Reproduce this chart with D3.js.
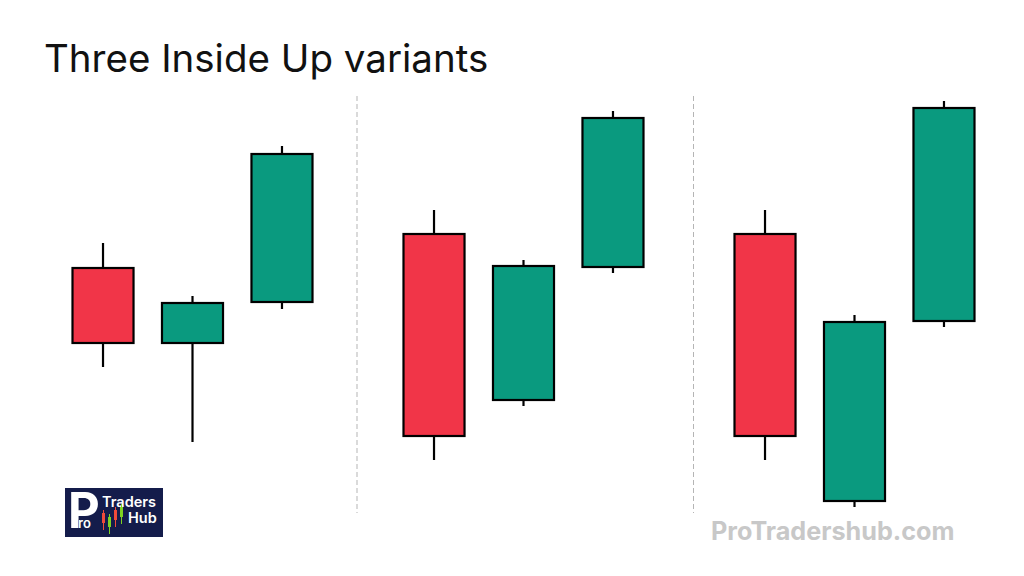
<!DOCTYPE html>
<html>
<head>
<meta charset="utf-8">
<script src="https://cdnjs.cloudflare.com/ajax/libs/d3/7.8.5/d3.min.js"></script>
<style>
  html, body { margin: 0; padding: 0; background: #fff; }
  svg { display: block; }
</style>
</head>
<body>
<svg width="1024" height="576"></svg>
<script>
// data: three variants, three candles each (price units)
var panels = ['A', 'B', 'C']
var slots = [0, 1, 2]
var opens  = [[24.2, 16.7, 20.8], [27.6, 11.0, 24.3], [27.6, 0.9, 18.9]]
var closes = [[16.7, 20.7, 35.6], [7.4, 24.4, 39.2], [7.4, 18.8, 40.2]]
var highs  = [[26.7, 21.4, 36.4], [30.0, 25.0, 39.9], [30.0, 19.5, 40.9]]
var lows   = [[14.3, 6.8, 20.1], [5.0, 10.4, 23.7], [5.0, 0.3, 18.3]]

var title = 'Three Inside Up variants'
var watermark = 'ProTradershub.com'

var candles = []
panels.forEach(function(p, pi) {
    slots.forEach(function(s) {
        candles.push({panel: p, slot: s, open: opens[pi][s], close: closes[pi][s], high: highs[pi][s], low: lows[pi][s]})
    })
})

var svg = d3.select('svg')

var panelX = d3.scaleBand()
    .domain(panels)
    .range([27, 1020])
var slotX = d3.scaleBand()
    .domain(slots)
    .range([45.5, 285.5])
    .paddingInner(0.318)
var y = d3.scaleLinear()
    .domain([0, 41])
    .range([510, 100])

// title
svg.append('text')
    .attr('x', 44)
    .attr('y', 72)
    .attr('font-family', 'Inter, sans-serif')
    .attr('font-size', 38.5)
    .attr('fill', '#111')
    .text(title)

// dashed dividers between variants
svg.selectAll('line.divider')
    .data(panels.slice(1))
    .enter()
    .append('line')
    .attr('class', 'divider')
    .attr('x1', function(d, i) { return panelX(d) + (i ? 4.5 : -1) })
    .attr('x2', function(d, i) { return panelX(d) + (i ? 4.5 : -1) })
    .attr('y1', 96)
    .attr('y2', 513)
    .attr('stroke', '#b5b5b5')
    .attr('stroke-width', 1)
    .attr('stroke-dasharray', '5,3')

var g = svg.append('g')
var cx = function(d) { return panelX(d.panel) + slotX(d.slot) + slotX.bandwidth() / 2 }

g.selectAll('line.wick')
    .data(candles)
    .enter()
    .append('line')
    .attr('class', 'wick')
    .attr('x1', cx)
    .attr('x2', cx)
    .attr('y1', function(d) { return y(d.high) })
    .attr('y2', function(d) { return y(d.low) })
    .attr('stroke', '#000')
    .attr('stroke-width', 2.2)

g.selectAll('rect.body')
    .data(candles)
    .enter()
    .append('rect')
    .attr('class', 'body')
    .attr('x', function(d) { return panelX(d.panel) + slotX(d.slot) })
    .attr('width', slotX.bandwidth())
    .attr('y', function(d) { return y(Math.max(d.open, d.close)) })
    .attr('height', function(d) { return Math.abs(y(d.open) - y(d.close)) })
    .attr('fill', function(d) { return d.close > d.open ? '#0a9a7f' : '#f13548' })
    .attr('stroke', '#000')
    .attr('stroke-width', 2.2)

// watermark
svg.append('text')
    .attr('x', 711)
    .attr('y', 540)
    .attr('font-family', 'Inter, sans-serif')
    .attr('font-weight', 700)
    .attr('font-size', 25.2)
    .attr('fill', '#c8c8c8')
    .text(watermark)

// logo badge
var logo = svg.append('g').attr('transform', 'translate(65,488)')
logo.append('rect')
    .attr('width', 98)
    .attr('height', 49)
    .attr('fill', '#141c4b')
logo.append('text')
    .attr('x', 3).attr('y', 40)
    .attr('font-family', 'Inter, sans-serif')
    .attr('font-weight', 700)
    .attr('font-size', 49)
    .attr('fill', '#fff')
    .text('P')
logo.append('text')
    .attr('x', 13).attr('y', 40)
    .attr('font-family', 'Inter, sans-serif')
    .attr('font-weight', 600)
    .attr('font-size', 13)
    .attr('fill', '#fff')
    .attr('stroke', '#141c4b')
    .attr('stroke-width', 0.6)
    .attr('paint-order', 'stroke')
    .text('ro')
logo.append('text')
    .attr('x', 37).attr('y', 19)
    .attr('font-family', 'Inter, sans-serif')
    .attr('font-weight', 600)
    .attr('font-size', 14.5)
    .attr('fill', '#fff')
    .text('Traders')
logo.append('text')
    .attr('x', 63).attr('y', 35)
    .attr('font-family', 'Inter, sans-serif')
    .attr('font-weight', 600)
    .attr('font-size', 14.5)
    .attr('fill', '#fff')
    .text('Hub')
// tiny candle icons: [x, top, height, colour]
var icons = [[37, 25, 14, '#f04a3a'], [43, 29, 14, '#7ed321'], [49, 22, 14, '#f04a3a'], [55, 19, 14, '#7ed321']]
logo.selectAll('line.iconwick')
    .data(icons)
    .enter()
    .append('line')
    .attr('class', 'iconwick')
    .attr('x1', function(d) { return d[0] + 1.5 })
    .attr('x2', function(d) { return d[0] + 1.5 })
    .attr('y1', function(d) { return d[1] - 3 })
    .attr('y2', function(d) { return d[1] + d[2] + 3 })
    .attr('stroke', function(d) { return d[3] })
    .attr('stroke-width', 1)
logo.selectAll('rect.icon')
    .data(icons)
    .enter()
    .append('rect')
    .attr('class', 'icon')
    .attr('x', function(d) { return d[0] })
    .attr('y', function(d) { return d[1] })
    .attr('width', 3)
    .attr('height', function(d) { return d[2] - 4 })
    .attr('fill', function(d) { return d[3] })
</script>
</body>
</html>
